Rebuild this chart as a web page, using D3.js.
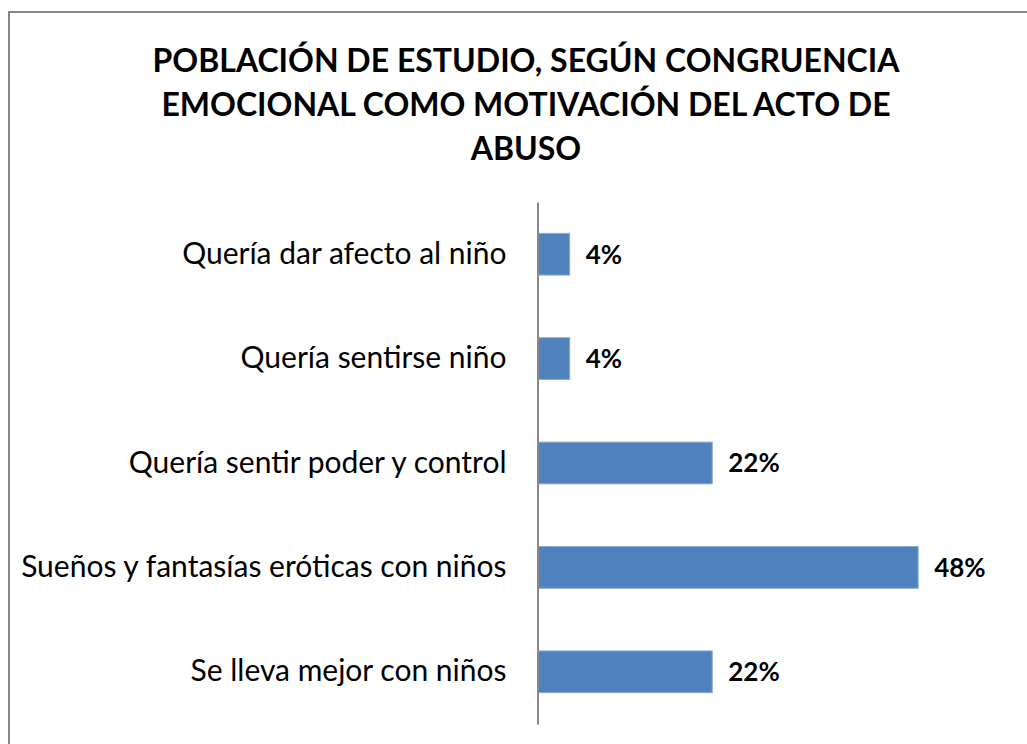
<!DOCTYPE html>
<html>
<head>
<meta charset="utf-8">
<script src="https://cdn.jsdelivr.net/npm/d3@7"></script>
<style>
  body { margin: 0; background: #fff; }
  svg { display: block; }
</style>
</head>
<body>
<div id="chart"></div>
<script>
// data
const categories = [
  "Quería dar afecto al niño",
  "Quería sentirse niño",
  "Quería sentir poder y control",
  "Sueños y fantasías eróticas con niños",
  "Se lleva mejor con niños"
];
const values = [4, 4, 22, 48, 22];
const titleLines = [
  "POBLACIÓN DE ESTUDIO, SEGÚN CONGRUENCIA",
  "EMOCIONAL COMO MOTIVACIÓN DEL ACTO DE",
  "ABUSO"
];

const width = 1027, height = 744;
const font = "Lato, 'Open Sans', sans-serif";

const svg = d3.select("#chart")
  .append("svg")
  .attr("width", width)
  .attr("height", height);

svg.append("rect")
  .attr("width", width)
  .attr("height", height)
  .style("fill", "#fff");

// chart frame (only left and top edges fall inside the picture)
svg.append("rect")
  .attr("x", 9)
  .attr("y", 12)
  .attr("width", 1040)
  .attr("height", 760)
  .style("fill", "none")
  .style("stroke", "#878787")
  .style("stroke-width", 2);

// title
svg.append("g")
  .selectAll("text")
  .data(titleLines)
  .join("text")
    .attr("x", 526)
    .attr("y", (d, i) => 72 + i * 44)
    .attr("text-anchor", "middle")
    .style("font-family", font)
    .style("font-weight", "bold")
    .style("font-size", "32px")
    .style("fill", "#000")
    .text(d => d);

const rows = categories.map((c, i) => ({cat: c, val: values[i]}));

const x = d3.scaleLinear()
  .domain([0, 50])
  .range([538, 934]);

const y = d3.scaleBand()
  .domain(categories)
  .range([202, 724])
  .paddingInner(0.6)
  .paddingOuter(0.3);

// bars
svg.append("g")
  .selectAll("rect")
  .data(rows)
  .join("rect")
    .attr("x", x(0))
    .attr("y", d => y(d.cat))
    .attr("width", d => x(d.val) - x(0))
    .attr("height", y.bandwidth())
    .style("fill", "#4f81bd")
    .style("stroke", "#8cabd3")
    .style("stroke-width", 1);

// category axis
const yAxis = svg.append("g")
  .attr("transform", `translate(${x(0) - 0.5},0)`)
  .call(d3.axisLeft(y).tickSize(0).tickSizeOuter(0).tickPadding(31));

yAxis.select(".domain")
  .style("stroke", "#878787")
  .style("stroke-width", 2);

yAxis.selectAll("text")
  .style("font-family", font)
  .style("font-size", "30px")
  .style("fill", "#000");

// value labels
svg.append("g")
  .selectAll("text")
  .data(rows)
  .join("text")
    .attr("x", d => x(d.val) + 16)
    .attr("y", d => y(d.cat) + y.bandwidth() / 2)
    .attr("dy", "0.36em")
    .style("font-family", font)
    .style("font-weight", "bold")
    .style("font-size", "26px")
    .style("fill", "#000")
    .text(d => d.val + "%");
</script>
</body>
</html>
